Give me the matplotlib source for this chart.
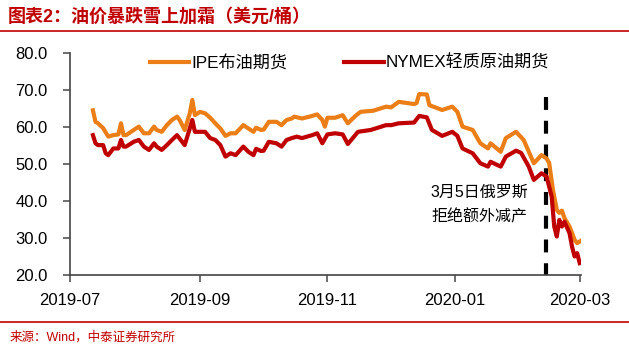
import matplotlib
matplotlib.use("Agg")
import matplotlib.pyplot as plt
import numpy as np

plt.rcParams["font.family"] = ["Liberation Sans", "Noto Sans CJK SC", "DejaVu Sans"]

# trading-day index (0 = 2019-07 tick, 200 = 2020-03 tick)
ipe_days = [9, 10, 11, 13, 15, 17, 19, 20, 21, 22, 25, 27, 29, 31, 33, 34, 36, 38, 40, 42,
            43, 45, 47, 48, 49, 51, 53, 55, 57, 59, 61, 63, 65, 68, 70, 72, 73, 75, 76, 78,
            81, 83, 85, 87, 88, 91, 94, 97, 99, 100, 101, 104, 107, 109, 112, 114, 119, 124,
            126, 129, 135, 136, 137, 140, 141, 146, 150, 152, 154, 158, 161, 164, 165, 169,
            171, 175, 178, 182, 185, 187, 188, 189.5, 191, 192, 193, 194, 196, 198, 199, 201]
ipe_price = [64.5, 61.4, 61.0, 59.7, 57.4, 57.8, 58.0, 61.0, 57.8, 57.8, 59.2, 60.1, 58.3,
             58.3, 60.1, 59.2, 58.7, 60.5, 61.9, 62.8, 61.9, 59.2, 63.7, 67.3, 63.2, 64.1,
             63.7, 62.5, 61.0, 59.6, 57.6, 58.3, 58.3, 60.5, 59.6, 58.7, 59.8, 59.2, 59.3,
             61.4, 61.4, 60.5, 61.9, 62.3, 62.8, 62.3, 62.8, 63.4, 61.9, 60.1, 62.5, 62.5,
             63.2, 61.0, 63.0, 64.1, 64.4, 65.5, 65.3, 66.8, 66.2, 66.5, 68.9, 68.8, 65.9,
             64.6, 65.5, 64.1, 60.1, 59.2, 55.6, 54.2, 55.6, 53.3, 57.0, 58.7, 56.5, 50.2,
             52.4, 51.5, 50.3, 43.0, 37.6, 36.8, 37.4, 35.4, 33.1, 29.5, 28.6, 29.5]

nymex_days = [9, 10, 11, 13, 14, 15, 17, 19, 20, 21, 22, 25, 27, 29, 31, 33, 34, 36, 38, 40,
              42, 44, 45, 47, 48, 49, 51, 53, 55, 57, 59, 61, 63, 65, 68, 70, 72, 73, 75, 76,
              78, 81, 83, 85, 87, 89, 91, 93, 95, 97, 99, 101, 104, 107, 109, 113, 118, 124,
              126, 129, 135, 137, 140, 142, 146, 150, 152, 154, 158, 161, 164, 165, 169, 171,
              175, 177, 180, 182, 185, 187, 189, 190, 191, 192, 193, 194, 196, 197, 198, 199,
              200]
nymex_price = [57.8, 55.6, 55.1, 55.1, 52.9, 52.4, 54.2, 54.2, 56.5, 54.7, 54.7, 56.0, 56.5,
               54.7, 53.8, 55.6, 54.7, 53.8, 55.1, 56.5, 57.8, 56.0, 55.1, 59.6, 61.9, 58.7,
               58.7, 58.7, 57.0, 56.5, 55.1, 52.0, 52.9, 52.4, 54.7, 53.3, 52.4, 54.1, 53.5,
               53.6, 56.0, 55.6, 54.7, 56.5, 57.0, 57.4, 57.0, 57.4, 57.8, 58.3, 55.6, 58.0,
               58.3, 58.0, 55.4, 58.7, 59.2, 60.5, 60.5, 61.0, 61.2, 63.0, 62.6, 59.2, 57.6,
               58.7, 57.6, 54.2, 52.9, 50.2, 49.3, 50.6, 49.3, 52.0, 53.6, 53.0, 49.3, 45.7,
               47.5, 46.6, 41.2, 33.1, 30.4, 34.9, 33.1, 34.4, 31.3, 27.6, 25.0, 25.9, 23.2]

tick_days = [0, 51, 101, 151, 200]
tick_labels = ["2019-07", "2019-09", "2019-11", "2020-01", "2020-03"]
event_day = 186.7

red = "#C00000"
orange = "#EB7E16"

fig = plt.figure(figsize=(6.29, 3.49), dpi=100)
ax = fig.add_axes([70 / 629, 74 / 349, 511 / 629, 222 / 349])

l1, = ax.plot(ipe_days, ipe_price, color=orange, lw=3.0, solid_joinstyle="round")
l2, = ax.plot(nymex_days, nymex_price, color=red, lw=3.0, solid_joinstyle="round")
ax.plot([event_day, event_day], [68, 20], color="black", lw=3,
        linestyle=(0, (3.1, 2.6)), zorder=1)

ax.text(160.5, 42.3, "3月5日俄罗斯", ha="center", va="center", fontsize=11.5)
ax.text(160.5, 35.8, "拒绝额外减产", ha="center", va="center", fontsize=11.5)

ax.set_xlim(0, 200.5)
ax.set_ylim(20, 80)
ax.set_xticks(tick_days)
ax.set_xticklabels(tick_labels)
ax.set_yticks(np.arange(20, 81, 10))
ax.set_yticklabels([f"{v:.1f}" for v in np.arange(20, 81, 10)])
ax.tick_params(axis="y", direction="out", length=5, width=1.2, color="#555555",
               labelsize=12, pad=11)
ax.tick_params(axis="x", direction="out", length=5, width=1.2, color="#555555",
               labelsize=12, pad=8)
for s in ["top", "right"]:
    ax.spines[s].set_visible(False)
for s in ["left", "bottom"]:
    ax.spines[s].set_color("#444444")
    ax.spines[s].set_linewidth(1.2)

ax.legend([l1, l2], ["IPE布油期货", "NYMEX轻质原油期货"], ncol=2, frameon=False,
          loc="center left", bbox_to_anchor=(150 / 629, 1 - 63 / 349),
          bbox_transform=fig.transFigure, borderpad=0, borderaxespad=0,
          handlelength=2.3, handletextpad=0.15, columnspacing=3.3, fontsize=12.3)

fig.text(8 / 629, 1 - 17 / 349, "图表2：油价暴跌雪上加霜（美元/桶）", color=red,
         fontsize=13, fontweight="bold", va="center", ha="left")
fig.add_artist(plt.Line2D([0, 1], [1 - 31 / 349, 1 - 31 / 349], color=red, lw=1.2,
                          transform=fig.transFigure))
fig.add_artist(plt.Line2D([0, 1], [1 - 322 / 349, 1 - 322 / 349], color=red, lw=1.2,
                          transform=fig.transFigure))
fig.text(10 / 629, 1 - 337 / 349, "来源：Wind，中泰证券研究所", color=red,
         fontsize=9, va="center", ha="left")

fig.savefig("out.png", dpi=100)
